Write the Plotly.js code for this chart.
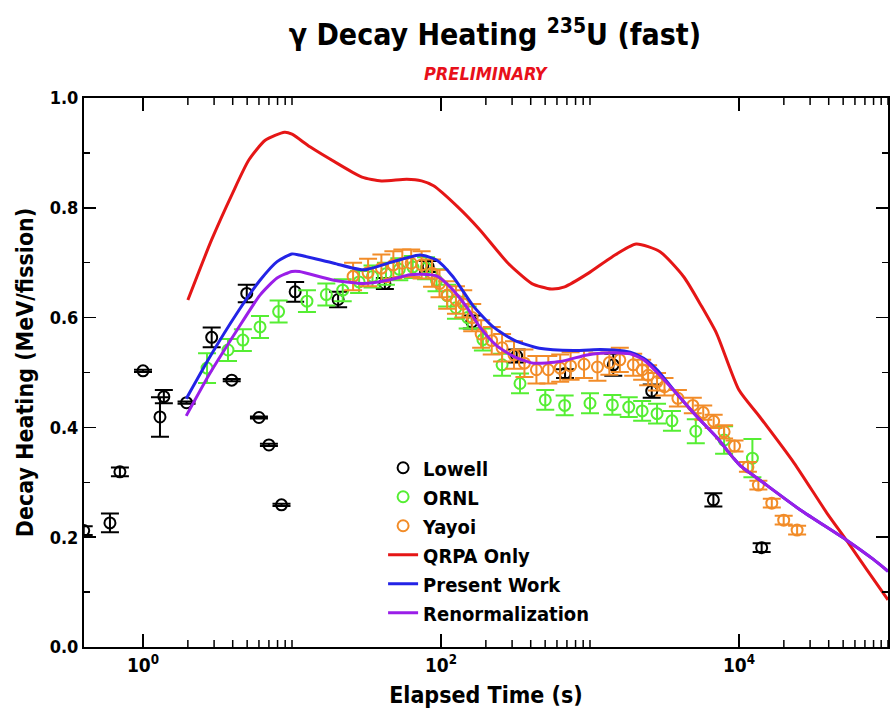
<!DOCTYPE html>
<html>
<head>
<meta charset="utf-8">
<script src="https://cdn.plot.ly/plotly-3.0.1.min.js"></script>
<style>
  html, body { margin: 0; padding: 0; background: #fff; }
  #chart { width: 890px; height: 711px; }
</style>
</head>
<body>
<div id="chart"></div>
<script>
// ---------- data (elapsed time in seconds, decay heating in MeV/fission) ----------
const lowellT   = [0.40, 0.60, 0.70, 1.0, 1.30, 1.38, 1.96, 2.89, 3.94, 4.97, 6.0, 7.0, 8.5, 10.5, 20.4, 42, 82, 161, 322, 680, 1433, 2596, 6730, 14190];
const lowellY   = [0.212, 0.226, 0.319, 0.503, 0.419, 0.456, 0.445, 0.564, 0.486, 0.644, 0.418, 0.368, 0.259, 0.647, 0.633, 0.662, 0.693, 0.592, 0.530, 0.498, 0.514, 0.466, 0.268, 0.181];
const lowellErr = [0.008, 0.017, 0.008, 0.002, 0.036, 0.012, 0.002, 0.018, 0.002, 0.016, 0.002, 0.002, 0.002, 0.018, 0.014, 0.010, 0.010, 0.012, 0.012, 0.008, 0.020, 0.012, 0.012, 0.008];

const ornlT   = [2.69, 3.72, 4.68, 6.10, 8.13, 12.6, 17.0, 21.9, 28.2, 34.7, 42.7, 52.5, 64.6, 79.4, 93.3, 110, 126, 151, 191, 257, 339, 501, 676, 1000, 1413, 1820, 2239, 2818, 3548, 5129, 7943, 12300];
const ornlY   = [0.508, 0.541, 0.559, 0.583, 0.611, 0.630, 0.642, 0.650, 0.665, 0.675, 0.680, 0.688, 0.692, 0.690, 0.668, 0.640, 0.618, 0.600, 0.560, 0.514, 0.480, 0.450, 0.440, 0.444, 0.441, 0.437, 0.430, 0.425, 0.412, 0.393, 0.377, 0.344];
const ornlErr = [0.027, 0.020, 0.020, 0.020, 0.020, 0.020, 0.020, 0.020, 0.020, 0.020, 0.020, 0.020, 0.020, 0.020, 0.020, 0.020, 0.020, 0.020, 0.020, 0.020, 0.018, 0.018, 0.018, 0.018, 0.018, 0.018, 0.018, 0.018, 0.018, 0.022, 0.025, 0.035];

const yayoiT   = [25.7, 32.4, 39.8, 47.9, 55.0, 63.1, 74.1, 87.1, 97.7, 110, 126, 141, 162, 186, 219, 257, 309, 363, 437, 525, 631, 741, 912, 1122, 1349, 1585, 1950, 2239, 2455, 2818, 3162, 3890, 4898, 5754, 6761, 7943, 9333, 11480, 13490, 16600, 19950, 24550];
const yayoiY   = [0.675, 0.682, 0.690, 0.696, 0.699, 0.699, 0.696, 0.681, 0.662, 0.641, 0.632, 0.625, 0.600, 0.570, 0.558, 0.545, 0.532, 0.517, 0.505, 0.505, 0.508, 0.512, 0.515, 0.510, 0.518, 0.523, 0.514, 0.505, 0.495, 0.483, 0.474, 0.453, 0.440, 0.427, 0.411, 0.392, 0.366, 0.328, 0.295, 0.262, 0.231, 0.213];
const yayoiErr = [0.025, 0.025, 0.025, 0.025, 0.025, 0.025, 0.025, 0.025, 0.025, 0.025, 0.025, 0.025, 0.025, 0.025, 0.025, 0.025, 0.025, 0.025, 0.025, 0.025, 0.025, 0.025, 0.025, 0.025, 0.022, 0.022, 0.020, 0.018, 0.018, 0.016, 0.016, 0.015, 0.014, 0.013, 0.012, 0.012, 0.010, 0.009, 0.008, 0.008, 0.008, 0.008];

const qrpaT = [2.0, 2.88, 3.98, 5.13, 6.61, 8.91, 10, 13.2, 20.4, 29.5, 39.8, 58.9, 74.1, 89.1, 129, 182, 282, 407, 550, 676, 977, 1413, 2042, 2951, 4266, 5623, 7079, 10000, 13800, 23440, 38900, 52480, 72440, 100000];
const qrpaY = [0.632, 0.741, 0.826, 0.887, 0.923, 0.9375, 0.934, 0.911, 0.880, 0.856, 0.849, 0.852, 0.849, 0.840, 0.802, 0.760, 0.699, 0.662, 0.652, 0.656, 0.681, 0.711, 0.734, 0.720, 0.674, 0.620, 0.571, 0.468, 0.419, 0.335, 0.244, 0.195, 0.140, 0.086];

const presentT = [1.95, 2.82, 4.27, 6.10, 7.94, 10, 11.2, 19.1, 30.2, 47.9, 72.4, 93.3, 120, 166, 224, 309, 457, 776, 1175, 1445, 1862, 2291, 2818, 3802, 5248, 7079, 9120, 10230, 13800, 25700, 52480, 79430, 100000];
const presentY = [0.452, 0.529, 0.608, 0.668, 0.702, 0.716, 0.714, 0.699, 0.687, 0.702, 0.714, 0.705, 0.675, 0.620, 0.583, 0.559, 0.544, 0.540, 0.542, 0.541, 0.537, 0.526, 0.505, 0.462, 0.419, 0.382, 0.345, 0.330, 0.304, 0.250, 0.195, 0.160, 0.138];

const renormT = [1.95, 2.82, 4.27, 6.10, 7.94, 10, 11.2, 19.1, 30.2, 43.7, 61.7, 74.1, 93.3, 115, 148, 182, 234, 309, 417, 631, 955, 1175, 1445, 1862, 2291, 2818, 3802, 5248, 7079, 9120, 10230, 13800, 25700, 52480, 79430, 100000];
const renormY = [0.421, 0.499, 0.577, 0.641, 0.672, 0.684, 0.684, 0.668, 0.662, 0.668, 0.678, 0.679, 0.676, 0.656, 0.620, 0.583, 0.550, 0.529, 0.517, 0.520, 0.532, 0.535, 0.536, 0.534, 0.523, 0.500, 0.462, 0.419, 0.382, 0.345, 0.330, 0.304, 0.250, 0.195, 0.160, 0.138];

const xMajorTicks = [1, 100, 10000];
const xMajorText  = ['10<sup>0</sup>', '10<sup>2</sup>', '10<sup>4</sup>'];
const xMinorTicks = [2, 3, 4, 5, 6, 7, 8, 9, 10, 200, 300, 400, 500, 600, 700, 800, 900, 1000, 20000, 30000, 40000, 50000, 60000, 70000, 80000, 90000, 100000];

// ---------- styling ----------
const FONT = '"DejaVu Sans Condensed", "Liberation Sans Narrow", "DejaVu Sans", sans-serif';
const cBlack = '#000000', cGreen = '#55ee33', cOrange = '#f28c28';
const cRed = '#e51616', cBlue = '#2323e6', cPurple = '#9a1ee8';
const X_RANGE = [-0.396, 5.0];
const PLOT_H = 711 - 98 - 64;           // plot-area height in px
const MAJ_LEN = 13 / PLOT_H, MIN_LEN = 7 / PLOT_H;

// x-axis tick marks (bottom and mirrored top), placed on the axis scale at the tick values
function tickShapes(vals, len) {
  const out = [];
  vals.forEach(function (v) {
    out.push({ type: 'line', xref: 'x', yref: 'paper', x0: v, x1: v, y0: 0, y1: len, layer: 'above', line: { color: '#000', width: 1.5 } });
    out.push({ type: 'line', xref: 'x', yref: 'paper', x0: v, x1: v, y0: 1, y1: 1 - len, layer: 'above', line: { color: '#000', width: 1.5 } });
  });
  return out;
}

function pts(name, x, y, err, color) {
  return {
    type: 'scatter', mode: 'markers', name: name, x: x, y: y,
    marker: { symbol: 'circle-open', size: 11, color: color, line: { color: color, width: 2 } },
    error_y: { type: 'data', array: err, visible: true, color: color, thickness: 2, width: 9 },
    cliponaxis: true
  };
}
function curve(name, x, y, color) {
  return {
    type: 'scatter', mode: 'lines', name: name, x: x, y: y,
    line: { color: color, width: 3, shape: 'spline', smoothing: 0.6 }
  };
}

const data = [
  pts('Lowell', lowellT, lowellY, lowellErr, cBlack),
  pts('ORNL', ornlT, ornlY, ornlErr, cGreen),
  pts('Yayoi', yayoiT, yayoiY, yayoiErr, cOrange),
  curve('QRPA Only', qrpaT, qrpaY, cRed),
  curve('Present Work', presentT, presentY, cBlue),
  curve('Renormalization', renormT, renormY, cPurple)
];

const layout = {
  width: 890, height: 711,
  paper_bgcolor: '#fff', plot_bgcolor: '#fff',
  margin: { l: 84, r: 2, t: 98, b: 64, pad: 0 },
  font: { family: FONT, color: '#000', size: 18 },
  showlegend: true,
  title: {
    text: 'γ Decay Heating <sup>235</sup>U (fast)',
    font: { family: FONT, size: 30, color: '#000', weight: 'bold' },
    x: 0.556, xanchor: 'center', xref: 'container',
    y: 0.951, yanchor: 'middle', yref: 'container'
  },
  annotations: [{
    text: 'PRELIMINARY', showarrow: false,
    xref: 'paper', yref: 'paper', x: 0.501, y: 1.0455, xanchor: 'center', yanchor: 'middle',
    font: { family: FONT, size: 18, color: '#e8101a', weight: 'bold', style: 'italic' }
  }],
  shapes: tickShapes(xMajorTicks, MAJ_LEN).concat(tickShapes(xMinorTicks, MIN_LEN)),
  xaxis: {
    type: 'log', range: X_RANGE,
    tickmode: 'array', tickvals: xMajorTicks, ticktext: xMajorText,
    ticks: 'inside', ticklen: 13, tickwidth: 1.5, tickcolor: '#000',
    showline: true, linewidth: 2, linecolor: '#000', mirror: 'ticks',
    showgrid: false, zeroline: false,
    tickfont: { family: FONT, size: 19, color: '#000', weight: 'bold' },
    title: { text: 'Elapsed Time (s)', font: { family: FONT, size: 23, color: '#000', weight: 'bold' }, standoff: 12 }
  },
  yaxis: {
    range: [0, 1], autorange: false,
    tickmode: 'linear', tick0: 0, dtick: 0.2, tickformat: '.1f',
    ticks: 'inside', ticklen: 12, tickwidth: 1.5, tickcolor: '#000',
    minor: { dtick: 0.1, ticks: 'inside', ticklen: 6, tickwidth: 1.5, tickcolor: '#000', showgrid: false },
    showline: true, linewidth: 2, linecolor: '#000', mirror: 'ticks',
    showgrid: false, zeroline: false, automargin: false,
    tickfont: { family: FONT, size: 18, color: '#000', weight: 'bold' },
    title: { text: 'Decay Heating (MeV/fission)', font: { family: FONT, size: 23, color: '#000', weight: 'bold' }, standoff: 10 }
  },
  legend: {
    x: 0.372, y: 0.362, xanchor: 'left', yanchor: 'top',
    bgcolor: 'rgba(0,0,0,0)', borderwidth: 0, tracegroupgap: 0,
    font: { family: FONT, size: 20, color: '#000', weight: 'bold' }
  }
};

Plotly.newPlot('chart', data, layout, { displayModeBar: false, staticPlot: true });
</script>
</body>
</html>
